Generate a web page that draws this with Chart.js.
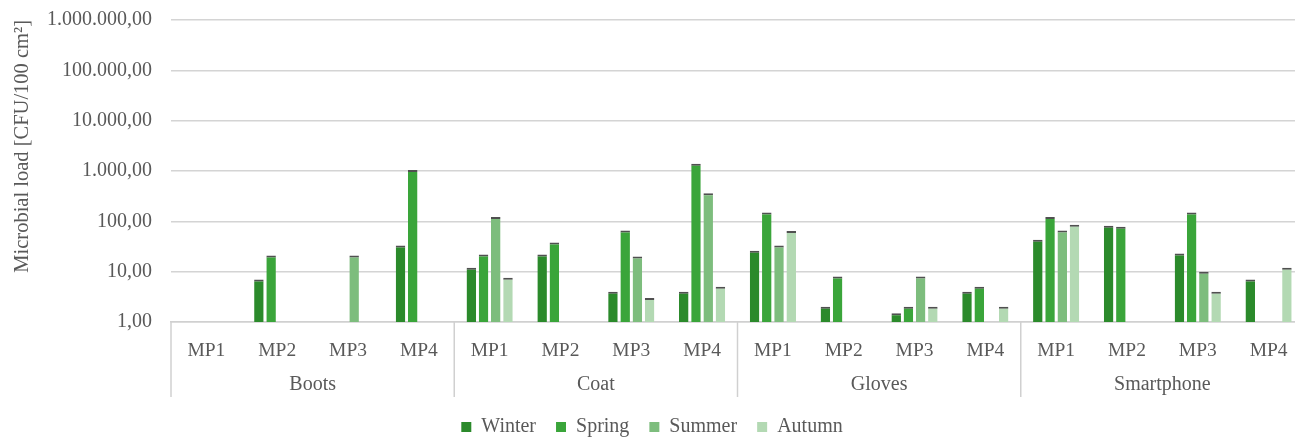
<!DOCTYPE html>
<html><head><meta charset="utf-8">
<script src="https://cdn.jsdelivr.net/npm/chart.js@4.4.1/dist/chart.umd.min.js"></script>
<style>html,body{margin:0;padding:0;overflow:hidden;background:#fff;width:1295px;height:437px}canvas{display:block}</style>
</head><body>
<canvas id="c" width="1304" height="447"></canvas>
<script>
const groups = ['Boots', 'Coat', 'Gloves', 'Smartphone'];
const points = ['MP1', 'MP2', 'MP3', 'MP4'];
const seasons = ['Winter', 'Spring', 'Summer', 'Autumn'];
// values per category: Boots MP1..MP4, Coat MP1..MP4, Gloves MP1..MP4, Smartphone MP1..MP4
const winter = [null, 7, null, 33,   12, 22, 4, 4,       26, 2, 1.5, 4,     43, 82, 23, 7];
const spring = [null, 21, null, 1050, 22, 38, 66, 1400,  150, 8, 2, 5,      122, 78, 150, null];
const summer = [null, null, 21, null, 122, null, 20, 360, 33, null, 8, null, 66, null, 10, null];
const autumn = [null, null, null, null, 7.6, null, 3, 5,  64, null, 2, 2,    86, null, 4, 12];
const yTicks = [1, 10, 100, 1000, 10000, 100000, 1000000];
const seasonColors = ['#2b8a2b', '#3aa53a', '#7dbd7d', '#b3d9b3'];

const labels = groups.flatMap(() => points);
const seriesValues = [winter, spring, summer, autumn];

function fmt(v) {
  const s = Math.round(v).toString().replace(/\B(?=(\d{3})+(?!\d))/g, '.');
  return s + ',00';
}

const TXT = '#595959';
const FONT = 'Liberation Serif, Times New Roman, serif';

const groupPlugin = {
  id: 'groupAxis',
  afterDraw(chart) {
    const x = chart.scales.x, a = chart.chartArea, ctx = chart.ctx;
    const slot = x.getPixelForValue(1) - x.getPixelForValue(0);
    ctx.save();
    ctx.strokeStyle = '#d0d0d0';
    ctx.lineWidth = 1.5;
    ctx.fillStyle = TXT;
    ctx.font = '20px ' + FONT;
    ctx.textAlign = 'center';
    ctx.textBaseline = 'middle';
    groups.forEach((g, i) => {
      const first = x.getPixelForValue(i * points.length);
      const last = x.getPixelForValue(i * points.length + points.length - 1);
      const left = first - slot / 2;
      ctx.beginPath();
      ctx.moveTo(left, a.bottom);
      ctx.lineTo(left, a.bottom + 75);
      ctx.stroke();
      ctx.fillText(g, (first + last) / 2, a.bottom + 63);
    });
    const rEdge = x.getPixelForValue(labels.length - 1) + slot / 2;
    ctx.beginPath();
    ctx.moveTo(rEdge, a.bottom);
    ctx.lineTo(rEdge, a.bottom + 75);
    ctx.stroke();
    ctx.restore();
  }
};

new Chart(document.getElementById('c'), {
  type: 'bar',
  data: {
    labels: labels,
    datasets: seasons.map((s, i) => ({
      label: s,
      data: seriesValues[i],
      backgroundColor: seasonColors[i],
      borderColor: '#505050',
      borderWidth: {top: 2, left: 0, right: 0, bottom: 0},
      borderSkipped: false,
      categoryPercentage: 0.69,
      barPercentage: 0.78
    }))
  },
  plugins: [groupPlugin],
  options: {
    responsive: false,
    animation: false,
    layout: {padding: {top: 20, left: 0, right: 0, bottom: 0}},
    plugins: {
      tooltip: {enabled: false},
      legend: {
        position: 'bottom',
        labels: {
          boxWidth: 10,
          boxHeight: 10,
          padding: 20,
          color: TXT,
          font: {family: FONT, size: 20},
          generateLabels(chart) {
            const items = Chart.defaults.plugins.legend.labels.generateLabels(chart);
            items.forEach(it => { it.lineWidth = 0; it.strokeStyle = 'rgba(0,0,0,0)'; });
            return items;
          }
        }
      }
    },
    scales: {
      x: {
        grid: {display: false},
        border: {display: true, color: '#d0d0d0', width: 1.5},
        ticks: {color: TXT, font: {family: FONT, size: 19.5}, padding: 9, maxRotation: 0, autoSkip: false},
        afterFit(s) { s.height = 75; }
      },
      y: {
        type: 'logarithmic',
        min: 1,
        max: 1000000,
        afterBuildTicks(s) { s.ticks = yTicks.map(v => ({value: v})); },
        grid: {color: '#d4d4d4', lineWidth: 1.5, drawTicks: true, tickLength: 19, tickColor: 'rgba(0,0,0,0)'},
        border: {display: false},
        ticks: {color: TXT, font: {family: FONT, size: 20}, padding: 0, callback: v => fmt(v)},
        title: {
          display: true,
          text: 'Microbial load [CFU/100 cm²]',
          color: TXT,
          font: {family: FONT, size: 20.5},
          align: 'end',
          padding: {top: 10, bottom: 0}
        },
        afterFit(s) { s.width = 171; }
      }
    }
  }
});
</script>
</body></html>
